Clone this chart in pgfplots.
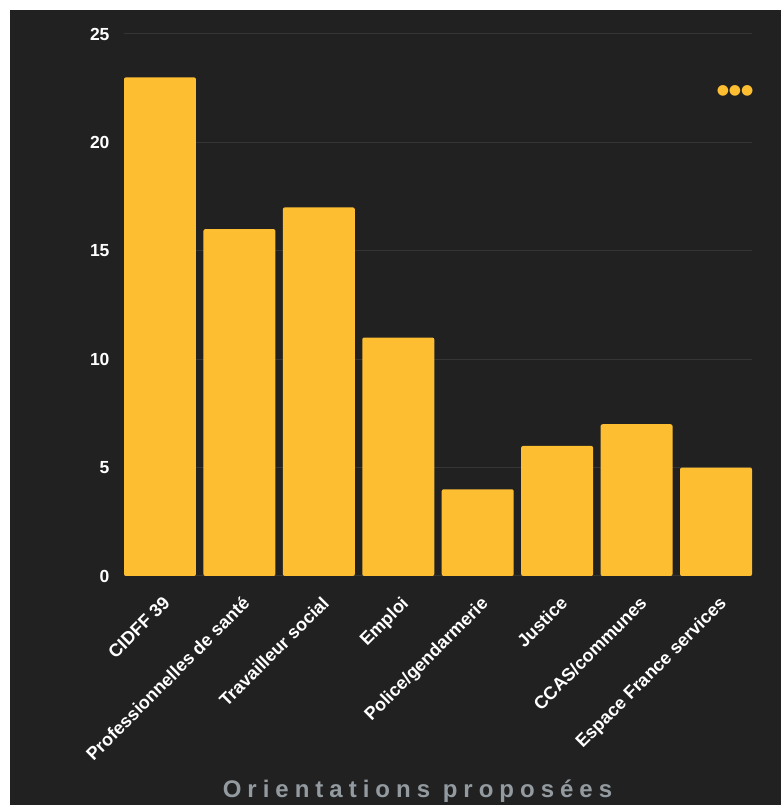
\documentclass[border=0pt]{standalone}
\usepackage{pgfplots}
\pgfplotsset{compat=1.18}
\usepackage{fontspec}
\setmainfont{Liberation Sans}
\newfontfamily\titlefont[LetterSpace=25]{Liberation Sans}
\newfontfamily\symfont{DejaVu Sans}
\definecolor{bg}{HTML}{212121}
\definecolor{baryellow}{HTML}{FDBE32}
\definecolor{gridc}{HTML}{353535}
\definecolor{titlec}{HTML}{939BA0}
\begin{document}
\begin{tikzpicture}[x=1pt,y=1pt]
\useasboundingbox (0,0) rectangle (781,805);
\fill[white] (0,0) rectangle (781,805);
\fill[bg] (10,0) rectangle (781,795);
\begin{axis}[
  at={(124pt,229pt)}, anchor=south west,
  scale only axis, width=628pt, height=542pt,
  xmin=-0.453, xmax=7.453, ymin=0, ymax=25,
  ybar, bar width=72pt,
  /pgf/number format/assume math mode=true,
  ytick={0,5,10,15,20,25},
  xtick={0,1,2,3,4,5,6,7},
  xticklabels={CIDFF 39,Professionnelles de santé,Travailleur social,Emploi,Police/gendarmerie,Justice,CCAS/communes,Espace France services},
  axis line style={draw=none},
  tick style={draw=none},
  ymajorgrids, grid style={gridc, line width=1pt},
  yticklabel style={font=\bfseries\fontsize{17.5}{17.5}\selectfont, text=white, xshift=-11pt},
  xticklabel style={font=\bfseries\fontsize{18}{18}\selectfont, text=white, anchor=north east, xshift=2pt, yshift=-10pt, rotate=45},
]
\addplot[fill=baryellow, draw=none, rounded corners=2pt] coordinates {
(0,23) (1,16) (2,17) (3,11) (4,4) (5,6) (6,7) (7,5)};
\node[text=baryellow, font=\symfont\fontsize{14}{14}\selectfont, inner sep=0pt] at (axis cs:7.24,22.36) {●●●};
\end{axis}
\node[anchor=base, text=titlec, font=\titlefont\bfseries\fontsize{24}{24}\selectfont] at (417.5,8) {Orientations proposées};
\end{tikzpicture}
\end{document}
